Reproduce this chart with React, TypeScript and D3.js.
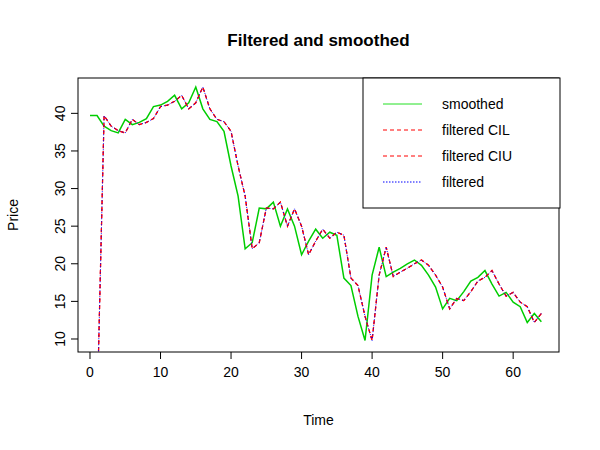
import React from 'react';
import * as d3 from 'd3';

// smoothed state, t = 0..64
const smoothed = [
  39.7, 39.7, 38.3, 37.7, 37.4, 39.2, 38.5, 38.8, 39.3, 40.9,
  41.1, 41.6, 42.4, 40.6, 41.4, 43.5, 40.6, 39.2, 38.9, 37.6,
  33.0, 29.0, 22.0, 22.8, 27.4, 27.3, 28.2, 25.0, 27.3, 25.0,
  21.2, 23.0, 24.6, 23.4, 24.2, 23.8, 18.1, 17.1, 13.0, 9.8,
  18.5, 22.2, 18.3, 18.9, 19.4, 20.0, 20.5, 19.8, 18.5, 16.9,
  14.0, 15.4, 15.1, 16.3, 17.7, 18.2, 19.1, 17.3, 15.7, 16.2,
  14.9, 14.3, 12.2, 13.4, 12.3,
];

// filtered state, t = 1..64
const filtered = [
  0.0, 39.7, 38.3, 37.7, 37.4, 39.2, 38.5, 38.8, 39.3, 40.9,
  41.1, 41.6, 42.4, 40.6, 41.4, 43.5, 40.6, 39.2, 38.9, 37.6,
  33.0, 29.0, 22.0, 22.8, 27.4, 27.3, 28.2, 25.0, 27.3, 25.0,
  21.2, 23.0, 24.6, 23.4, 24.2, 23.8, 18.1, 17.1, 13.0, 9.8,
  18.5, 22.2, 18.3, 18.9, 19.4, 20.0, 20.5, 19.8, 18.5, 16.9,
  14.0, 15.4, 15.1, 16.3, 17.7, 18.2, 19.1, 17.3, 15.7, 16.2,
  14.9, 14.3, 12.2, 13.4,
];
const filteredCIL = filtered;
const filteredCIU = filtered;

const xTicks = [0, 10, 20, 30, 40, 50, 60];
const yTicks = [10, 15, 20, 25, 30, 35, 40];

const legendItems = [
  { label: 'smoothed', color: '#22e022', dash: 'none' },
  { label: 'filtered CIL', color: '#ff0000', dash: '4,3' },
  { label: 'filtered CIU', color: '#ff0000', dash: '4,3' },
  { label: 'filtered', color: '#0000ff', dash: '1.5,1.5' },
];

const W = 600, H = 450;
const L = 78, R = 559, T = 78, B = 352;

export default function App() {
  const x = d3.scaleLinear().domain([-1.7, 66.5]).range([L, R]);
  const y = d3.scaleLinear().domain([8.27, 44.7]).range([B, T]);
  const line = d3.line<number>();
  const sm = line(smoothed.map((v, i) => [x(i), y(v)] as [number, number]))!;
  const fl = (arr: number[]) => line(arr.map((v, i) => [x(i + 1), y(v)] as [number, number]))!;

  return (
    <svg width={W} height={H} style={{ position: 'absolute', left: 0, top: 0, fontFamily: 'Liberation Sans, Arial, sans-serif' }}>
      <rect width={W} height={H} fill="#fff" />
      <text x={(L + R) / 2} y={46} textAnchor="middle" fontSize={17} fontWeight="bold">Filtered and smoothed</text>
      <defs>
        <clipPath id="plot"><rect x={L} y={T} width={R - L} height={B - T} /></clipPath>
      </defs>
      <g clipPath="url(#plot)" fill="none">
        <path d={sm} stroke="#00cd00" strokeWidth={1.5} />
        <path d={fl(filteredCIL)} stroke="#ff0000" strokeWidth={1.2} strokeDasharray="4,3" />
        <path d={fl(filteredCIU)} stroke="#ff0000" strokeWidth={1.2} strokeDasharray="4,3" />
        <path d={fl(filtered)} stroke="#0000ff" strokeWidth={1} strokeDasharray="1,2" />
      </g>
      <rect x={L} y={T} width={R - L} height={B - T} fill="none" stroke="#000" />
      {xTicks.map(t => (
        <g key={t}>
          <line x1={x(t)} x2={x(t)} y1={B} y2={B + 7} stroke="#000" />
          <text x={x(t)} y={B + 25} textAnchor="middle" fontSize={14}>{t}</text>
        </g>
      ))}
      {yTicks.map(t => (
        <g key={t}>
          <line x1={L - 7} x2={L} y1={y(t)} y2={y(t)} stroke="#000" />
          <text transform={`translate(${L - 13},${y(t)}) rotate(-90)`} textAnchor="middle" fontSize={14}>{t}</text>
        </g>
      ))}
      <text x={(L + R) / 2} y={425} textAnchor="middle" fontSize={14}>Time</text>
      <text transform={`translate(18,${(T + B) / 2}) rotate(-90)`} textAnchor="middle" fontSize={14}>Price</text>
      <rect x={363} y={78} width={197} height={130} fill="#fff" stroke="#000" />
      {legendItems.map((d, i) => (
        <g key={d.label}>
          <line x1={383} x2={422} y1={104 + i * 26} y2={104 + i * 26} stroke={d.color} strokeDasharray={d.dash} />
          <text x={442} y={104 + i * 26 + 5} fontSize={14}>{d.label}</text>
        </g>
      ))}
    </svg>
  );
}
